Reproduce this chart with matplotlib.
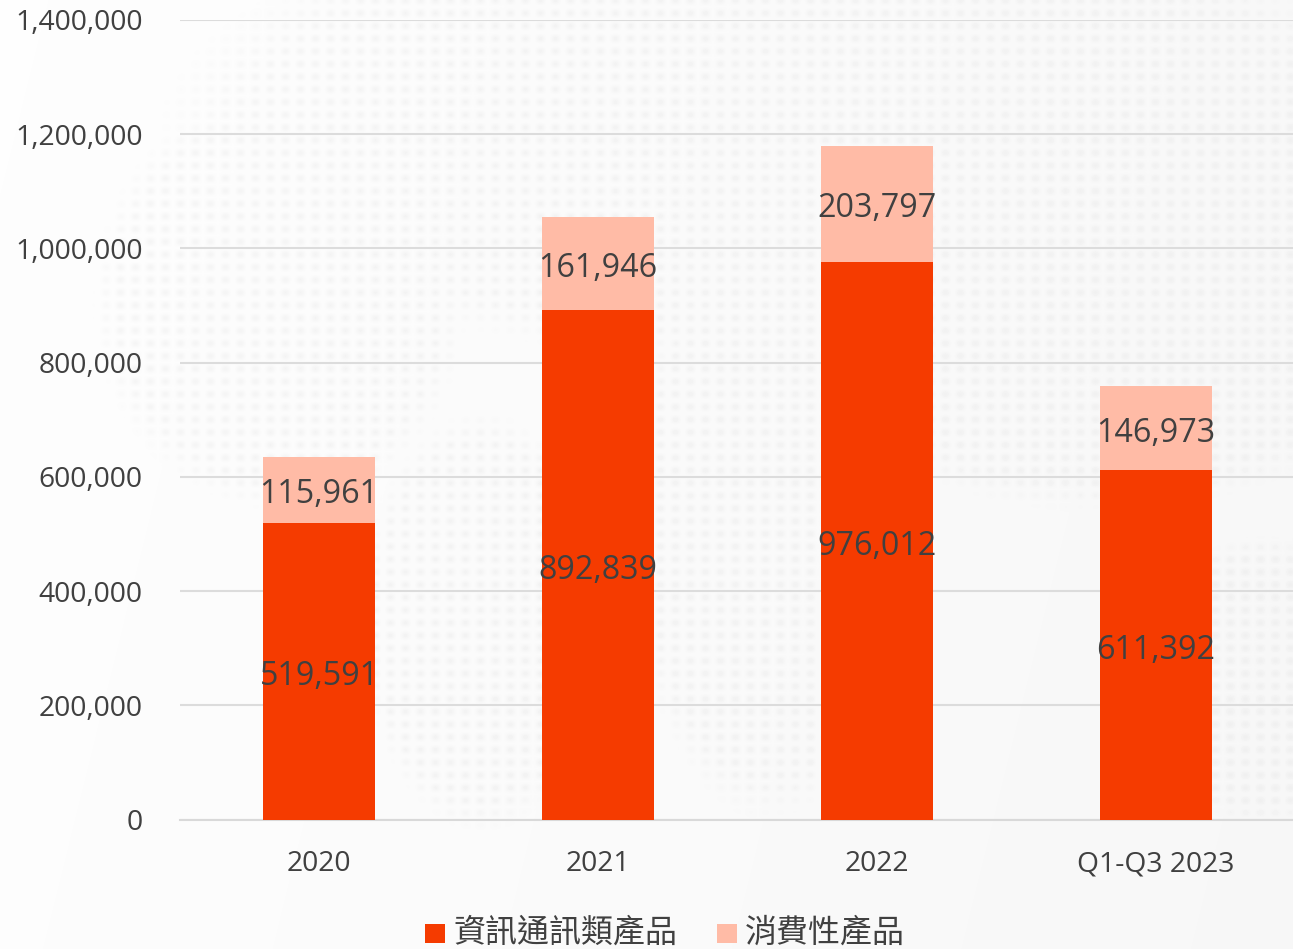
import numpy as np
import matplotlib
matplotlib.use("Agg")
import matplotlib.pyplot as plt
from matplotlib.patches import Rectangle

plt.rcParams['font.family'] = ['Open Sans', 'Noto Sans CJK TC', 'DejaVu Sans']

categories = ['2020', '2021', '2022', 'Q1-Q3 2023']
ict_values = [519591, 892839, 976012, 611392]
consumer_values = [115961, 161946, 203797, 146973]
series_names = ['資訊通訊類產品', '消費性產品']
y_ticks = [0, 200000, 400000, 600000, 800000, 1000000, 1200000, 1400000]

W, H = 1293, 949
TXT = '#404040'
ICT = '#f53b00'
CON = '#ffbba6'
fig = plt.figure(figsize=(W / 100, H / 100), dpi=100, facecolor='#fafafa')

# faint dotted world-map watermark behind the chart
bg = fig.add_axes([0, 0, 1, 1], zorder=0)
bg.axis('off')
yy, xx = np.mgrid[0:H, 0:W]
base = 0.993 - 0.022 * (xx / W) - 0.004 * (yy / H)
land_blobs = [(780, 130, 560, 210), (1100, 300, 300, 190), (280, 300, 170, 190),
              (480, 620, 110, 190), (770, 520, 130, 270), (1260, 680, 110, 130)]
mask = np.zeros((H, W))
for cx, cy, rx, ry in land_blobs:
    d = ((xx - cx) / rx) ** 2 + ((yy - cy) / ry) ** 2
    mask = np.maximum(mask, np.clip((1.25 - d) * 3, 0, 1))
dots = (np.cos(2 * np.pi * xx / 15) * 0.5 + 0.5) * (np.cos(2 * np.pi * yy / 12.7) * 0.5 + 0.5)
bg.imshow(base - 0.03 * mask * dots, cmap='gray', vmin=0, vmax=1, aspect='auto', interpolation='bilinear')

ax = fig.add_axes([179.5 / W, 1 - 819.5 / H, 1116 / W, (819.5 - 20) / H], zorder=1)
ax.patch.set_alpha(0)
x = np.arange(len(categories))
ax.bar(x, ict_values, width=0.4, color=ICT, zorder=3)
ax.bar(x, consumer_values, width=0.4, bottom=ict_values, color=CON, zorder=3)
ax.set_xlim(-0.5, 3.5)
ax.set_ylim(0, 1400000)
ax.set_yticks(y_ticks)
ax.set_yticklabels([f'{v:,}' for v in y_ticks])
ax.set_xticks(x)
ax.set_xticklabels(categories)
ax.tick_params(axis='both', length=0, labelsize=20.3, labelcolor=TXT)
ax.tick_params(axis='y', pad=26.5)
ax.tick_params(axis='x', pad=22)
ax.grid(axis='y', color='#dcdcdc', lw=1.5, zorder=1)
ax.set_axisbelow(True)
for s in ['top', 'right', 'left']:
    ax.spines[s].set_visible(False)
ax.spines['bottom'].set_color('#d9d9d9')
ax.spines['bottom'].set_linewidth(1.5)

for i in x:
    ax.annotate(f'{ict_values[i]:,}', (i, ict_values[i] / 2), xytext=(0, -4), textcoords='offset points',
                ha='center', va='center', fontsize=23.2, color=TXT, zorder=5)
    ax.annotate(f'{consumer_values[i]:,}', (i, ict_values[i] + consumer_values[i] / 2), xytext=(0, -3.5),
                textcoords='offset points', ha='center', va='center', fontsize=23.2, color=TXT, zorder=5)

# legend, laid out to sit at the bottom edge as in the reference
for sx, col, tx, name in [(425, ICT, 453, series_names[0]), (717, CON, 745, series_names[1])]:
    fig.add_artist(Rectangle((sx / W, 1 - 943 / H), 20 / W, 19 / H, transform=fig.transFigure,
                             color=col, lw=0, zorder=3))
    fig.text(tx / W, 1 - 933 / H, name, fontsize=23, color=TXT, ha='left', va='center', zorder=3)

fig.savefig('out.png', dpi=100, facecolor=fig.get_facecolor())
